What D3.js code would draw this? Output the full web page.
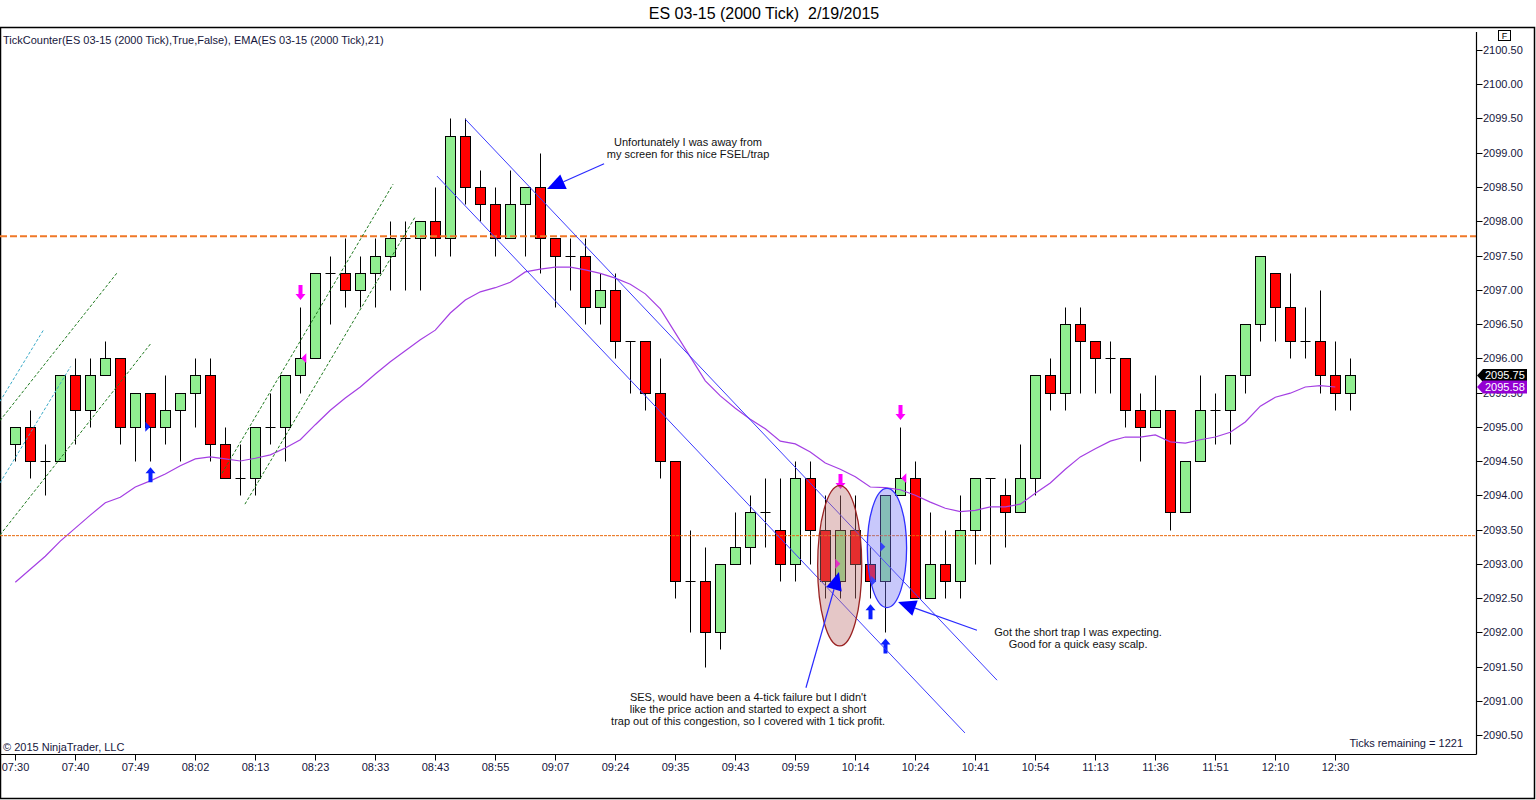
<!DOCTYPE html>
<html><head><meta charset="utf-8">
<script src="https://cdn.jsdelivr.net/npm/d3@7"></script>
<style>
body{margin:0;background:#fff;overflow:hidden}
svg{display:block}
text{font-family:Arial,"Liberation Sans",sans-serif;white-space:pre}
</style>
</head><body>
<svg id="chart" width="1536" height="800"></svg>
<script>
// ---------- DATA ----------
const title = "ES 03-15 (2000 Tick)  2/19/2015";
const legendText = "TickCounter(ES 03-15 (2000 Tick),True,False), EMA(ES 03-15 (2000 Tick),21)";
const opens = [2094.75,2095,2094.5,2094.5,2095.75,2095.25,2095.75,2096,2095,2095.5,
2095,2095.25,2095.5,2095.75,2094.75,2094.25,2094.25,2095,2095,2095.75,
2096,2097.25,2097.25,2097,2097.25,2097.5,2097.75,2097.75,2098,2097.75,
2099.25,2098.5,2098.25,2097.75,2098.25,2098.5,2097.75,2097.5,2097.5,2096.75,
2097,2096.25,2096.25,2095.5,2094.5,2092.75,2092.75,2092,2093,2093.25,
2093.75,2093.5,2093,2094.25,2093.5,2092.75,2093.5,2093,2092.75,2094,
2094.25,2092.5,2093,2092.75,2093.5,2094.25,2094,2093.75,2094.25,2095.75,
2095.5,2096.5,2096.25,2096,2096,2095.25,2095,2095.25,2093.75,2094.5,
2095.25,2095.25,2095.75,2096.5,2097.25,2096.75,2096.25,2096.25,2095.75,2095.5];
const highs = [2095,2095.25,2094.75,2095.75,2096,2096,2096.25,2096,2095.5,2095.5,
2095.75,2095.5,2096,2096,2095,2094.75,2095,2095.5,2095.75,2096.75,
2097.25,2097.5,2097.75,2097.5,2097.75,2098,2098,2098,2098.5,2099.5,
2099.5,2098.75,2098.5,2098.75,2098.5,2099,2097.75,2097.75,2097.75,2097.25,
2097.25,2096.25,2096.25,2096,2094.5,2093.5,2093.25,2093,2093.75,2094,
2094.25,2094.25,2094.5,2094.5,2094,2094,2094,2093.25,2094,2095,
2094.5,2093.75,2093.5,2094,2094.25,2094.25,2094.25,2094.75,2095.75,2096,
2096.75,2096.75,2096.25,2096.25,2096,2095.5,2095.75,2095.25,2094.5,2095.75,
2095.5,2095.75,2096.5,2097.5,2097.25,2097.25,2096.75,2097,2096.25,2096];
const lows = [2094.5,2094.25,2094,2094.5,2094.75,2095,2095.75,2094.75,2094.5,2094.5,
2094.75,2094.5,2095,2094.5,2094.25,2094,2094,2094.75,2094.5,2095.5,
2096,2096.5,2096.75,2096.75,2096.75,2097,2097,2097,2097.5,2097.5,
2098.25,2098,2097.5,2097.75,2097.5,2097.25,2096.75,2097,2096.5,2096.5,
2096,2095.5,2095.25,2094.25,2092.5,2092,2091.5,2091.75,2093,2093,
2093.25,2092.75,2092.75,2093,2092.5,2092.5,2092.5,2092.5,2092,2094,
2092.5,2092.5,2092.5,2092.5,2093,2093,2093.25,2093.75,2094,2095.25,
2095.25,2095.5,2095.5,2095.5,2095,2094.5,2095,2093.5,2093.75,2094.5,
2094.75,2094.75,2095.5,2096.25,2096.25,2096,2096,2095.5,2095.25,2095.25];
const closes = [2095,2094.5,2094.5,2095.75,2095.25,2095.75,2096,2095,2095.5,2095,
2095.25,2095.5,2095.75,2094.75,2094.25,2094.25,2095,2095,2095.75,2096,
2097.25,2097.25,2097,2097.25,2097.5,2097.75,2097.75,2098,2097.75,2099.25,
2098.5,2098.25,2097.75,2098.25,2098.5,2097.75,2097.5,2097.5,2096.75,2097,
2096.25,2096.25,2095.5,2094.5,2092.75,2092.75,2092,2093,2093.25,2093.75,
2093.75,2093,2094.25,2093.5,2092.75,2093.5,2093,2092.75,2094,2094.25,
2092.5,2093,2092.75,2093.5,2094.25,2094.25,2093.75,2094.25,2095.75,2095.5,
2096.5,2096.25,2096,2096,2095.25,2095,2095.25,2093.75,2094.5,2095.25,
2095.25,2095.75,2096.5,2097.5,2096.75,2096.25,2096.25,2095.75,2095.5,2095.75];
const emaValues = [2092.73,2092.92,2093.11,2093.33,2093.52,2093.71,2093.89,2093.97,2094.12,2094.21,
2094.31,2094.43,2094.53,2094.56,2094.53,2094.50,2094.54,2094.59,2094.69,2094.81,
2095.03,2095.24,2095.42,2095.58,2095.77,2095.95,2096.11,2096.27,2096.41,2096.66,
2096.85,2096.97,2097.03,2097.11,2097.26,2097.30,2097.33,2097.33,2097.29,2097.24,
2097.17,2097.08,2096.94,2096.72,2096.37,2096.02,2095.67,2095.45,2095.27,2095.11,
2094.97,2094.79,2094.75,2094.63,2094.47,2094.38,2094.27,2094.12,2094.11,2094.08,
2094.00,2093.90,2093.81,2093.76,2093.78,2093.83,2093.83,2093.87,2094.03,2094.18,
2094.38,2094.56,2094.68,2094.79,2094.85,2094.85,2094.88,2094.78,2094.76,2094.81,
2094.85,2094.92,2095.07,2095.30,2095.43,2095.49,2095.58,2095.60,2095.58];
const timeLabels = ["07:30","07:40","07:49","08:02","08:13","08:23","08:33","08:43","08:55","09:07","09:24","09:35","09:43","09:59","10:14","10:24","10:41","10:54","11:13","11:36","11:51","12:10","12:30"];
const timeLabelIndex = [0,4,8,12,16,20,24,28,32,36,40,44,48,52,56,60,64,68,72,76,80,84,88];
const priceTicks = [2090.5,2091,2091.5,2092,2092.5,2093,2093.5,2094,2094.5,2095,2095.5,2096,2096.5,2097,2097.5,2098,2098.5,2099,2099.5,2100,2100.5];
const lastPrice = 2095.75;
const lastEma = 2095.58;
const ticksRemaining = 1221;
// signal markers [bar index, price]
const upArrows = [[9,2094.41],[57,2092.41],[58,2091.91]];
const downArrows = [[19,2096.85],[55,2094.09],[59,2095.10]];
const rightTriangles = [[9,2095.0,"blue"],[55,2093.0,"magenta"],[58,2093.25,"blue"],[57,2092.75,"blue"]];
const leftTriangles = [[19,2096.0],[59,2094.25]];
// drawing objects [index1, price1, index2, price2]
const levelDashed = 2097.78;
const levelThin = 2093.41;
const channelLines = [[30,2099.49,65.45,2091.30],[28.11,2098.66,63.31,2090.53]];
const greenLines = [[-1.02,2093.42,9.05,2096.22],[-1.02,2095.09,6.76,2097.24],[13.78,2094.32,25.18,2098.54],[15.31,2093.87,26.65,2098.06]];
const tealLines = [[-1.02,2095.37,1.87,2096.41],[-1.02,2094.18,3.69,2095.88]];
const arrowLines = [[39.25,2098.84,35.45,2098.47],[64.11,2092.03,58.85,2092.44],[52.71,2091.19,54.91,2092.88]];
// ellipses [centre index, centre price, half width (bars), half height (points)]
const redEllipse = [54.96,2092.97,1.47,1.17];
const blueEllipse = [58.11,2093.23,1.31,0.87];
const notes = [
  {i:44.85, p:2099.10, lines:["Unfortunately I was away from","my screen for this nice FSEL/trap"]},
  {i:70.85, p:2091.945, lines:["Got the short trap I was expecting.","Good for a quick easy scalp."]},
  {i:48.85, p:2090.996, lines:["SES, would have been a 4-tick failure but I didn't","like the price action and started to expect a short","trap out of this congestion, so I covered with 1 tick profit."]}
];

// ---------- LAYOUT ----------
const W = 1536, H = 800;
const plotL = 0, plotR = 1476, plotT = 27, plotB = 754;
const svg = d3.select("#chart");
const x = d3.scaleLinear().domain([0, 89]).range([15.3, 1350.3]);
const y = d3.scaleLinear().domain([2090.5, 2100.5]).range([735, 50]);
const txtColor = "#16163c";
const px = v => Math.round(v) + 0.5;

svg.append("rect").attr("width", W).attr("height", H).attr("fill", "#fff");
svg.append("defs").append("clipPath").attr("id", "plotclip")
  .append("rect").attr("x", plotL).attr("y", plotT).attr("width", plotR - plotL).attr("height", plotB - plotT);

// title
svg.append("text").attr("x", 764).attr("y", 19).attr("text-anchor", "middle")
  .attr("font-size", 16).attr("fill", "#000").attr("xml:space", "preserve").text(title);

// frame
svg.append("rect").attr("x", 0.5).attr("y", 27.5).attr("width", 1534).attr("height", 771)
  .attr("fill", "none").attr("stroke", "#000").attr("stroke-width", 1.5);

const plot = svg.append("g").attr("clip-path", "url(#plotclip)");

// candles
const bars = d3.range(opens.length).map(i => ({i, o: opens[i], h: highs[i], l: lows[i], c: closes[i]}));
const cg = plot.append("g");
bars.forEach(b => {
  const cx = px(x(b.i));
  cg.append("line").attr("x1", cx).attr("x2", cx).attr("y1", px(y(b.h))).attr("y2", px(y(b.l)))
    .attr("stroke", "#000").attr("stroke-width", 1);
  if (b.o === b.c) {
    cg.append("line").attr("x1", cx - 5).attr("x2", cx + 5).attr("y1", px(y(b.o))).attr("y2", px(y(b.o)))
      .attr("stroke", "#000").attr("stroke-width", 1);
  } else {
    const top = px(y(Math.max(b.o, b.c))), bot = px(y(Math.min(b.o, b.c)));
    cg.append("rect").attr("x", cx - 5).attr("y", top).attr("width", 10).attr("height", bot - top)
      .attr("fill", b.c > b.o ? "#90ee90" : "#ff0000").attr("stroke", "#000").attr("stroke-width", 1);
  }
});

// EMA
plot.append("path").datum(emaValues)
  .attr("d", d3.line().x((d, i) => x(i)).y(d => y(d)))
  .attr("fill", "none").attr("stroke", "#a43fe3").attr("stroke-width", 1.2);

// markers
const mg = plot.append("g");
upArrows.forEach(([i, p]) => {
  const cx = x(i) + 0.2, ty = y(p);
  mg.append("path").attr("d", `M${cx},${ty} L${cx+5},${ty+6} L${cx+2},${ty+6} L${cx+2},${ty+15} L${cx-2},${ty+15} L${cx-2},${ty+6} L${cx-5},${ty+6} Z`)
    .attr("fill", "#0a1eff");
});
downArrows.forEach(([i, p]) => {
  const cx = x(i) + 0.2, ty = y(p);
  mg.append("path").attr("d", `M${cx},${ty} L${cx+5},${ty-6} L${cx+2},${ty-6} L${cx+2},${ty-15} L${cx-2},${ty-15} L${cx-2},${ty-6} L${cx-5},${ty-6} Z`)
    .attr("fill", "#ff00ff");
});
rightTriangles.forEach(([i, p, col]) => {
  const cx = x(i), cy = y(p);
  const x0 = col === "blue" && i === 57 ? cx + 1 : cx - 5;
  mg.append("path").attr("d", `M${x0},${cy-5} L${x0+5},${cy} L${x0},${cy+5} Z`)
    .attr("fill", col === "blue" ? "#0a1eff" : "#ff00ff");
});
leftTriangles.forEach(([i, p]) => {
  const cx = x(i), cy = y(p);
  mg.append("path").attr("d", `M${cx+6},${cy-5} L${cx+1},${cy} L${cx+6},${cy+5} Z`).attr("fill", "#ff00ff");
});

// horizontal levels
plot.append("line").attr("x1", plotL).attr("x2", plotR).attr("y1", y(levelDashed)).attr("y2", y(levelDashed))
  .attr("stroke", "#f07828").attr("stroke-width", 2).attr("stroke-dasharray", "7,3");
plot.append("line").attr("x1", plotL).attr("x2", plotR).attr("y1", y(levelThin)).attr("y2", y(levelThin))
  .attr("stroke", "#e8680a").attr("stroke-width", 1).attr("stroke-dasharray", "3,1");

// trend lines
const dg = plot.append("g");
function seg(d, color, dash) {
  dg.append("line").attr("x1", x(d[0])).attr("y1", y(d[1])).attr("x2", x(d[2])).attr("y2", y(d[3]))
    .attr("stroke", color).attr("stroke-width", 1).attr("stroke-dasharray", dash || null);
}
greenLines.forEach(d => seg(d, "#1f7a1f", "3,2"));
tealLines.forEach(d => seg(d, "#3aaac8", "3,2"));
channelLines.forEach(d => seg(d, "#3c3cff", null));

// ellipses
function ell(e, fill, stroke) {
  const cx = x(e[0]), cy = y(e[1]);
  const rx = x(e[0] + e[2]) - cx, ry = cy - y(e[1] + e[3]);
  dg.append("ellipse").attr("cx", cx).attr("cy", cy).attr("rx", rx).attr("ry", ry)
    .attr("fill", fill).attr("stroke", stroke).attr("stroke-width", 1.3);
}
ell(redEllipse, "rgba(190,115,115,0.4)", "#9a2222");
ell(blueEllipse, "rgba(118,118,245,0.4)", "#3030ff");

// arrow lines
arrowLines.forEach(d => {
  const x1 = x(d[0]), y1 = y(d[1]), x2 = x(d[2]), y2 = y(d[3]);
  const len = Math.hypot(x2 - x1, y2 - y1), ux = (x2 - x1) / len, uy = (y2 - y1) / len;
  const hl = 18, hw = 8;
  const bx = x2 - ux * hl, by = y2 - uy * hl;
  dg.append("line").attr("x1", x1).attr("y1", y1).attr("x2", bx).attr("y2", by)
    .attr("stroke", "#2a2aff").attr("stroke-width", 1.2);
  dg.append("path").attr("d", `M${x2},${y2} L${bx - uy*hw},${by + ux*hw} L${bx + uy*hw},${by - ux*hw} Z`)
    .attr("fill", "#0000ff");
});

// notes
notes.forEach(n => {
  const t = dg.append("text").attr("text-anchor", "middle").attr("font-size", 11).attr("fill", "#111");
  n.lines.forEach((ln, k) => t.append("tspan").attr("x", x(n.i)).attr("y", y(n.p) + k * 11.8).text(ln));
});

// legend & labels inside plot
svg.append("text").attr("x", 3).attr("y", 44).attr("font-size", 11).attr("fill", txtColor).text(legendText);
svg.append("text").attr("x", 3).attr("y", 751).attr("font-size", 11).attr("fill", txtColor).text("© 2015 NinjaTrader, LLC");
svg.append("text").attr("x", 1463).attr("y", 747).attr("text-anchor", "end").attr("font-size", 11).attr("fill", txtColor)
  .text("Ticks remaining = " + ticksRemaining);

// right axis
const ya = svg.append("g");
ya.append("line").attr("x1", px(plotR)).attr("x2", px(plotR)).attr("y1", 32).attr("y2", plotB + 0.5)
  .attr("stroke", "#000").attr("stroke-width", 1.2);
priceTicks.forEach(p => {
  const ty = px(y(p));
  ya.append("line").attr("x1", px(plotR)).attr("x2", px(plotR) + 6).attr("y1", ty).attr("y2", ty).attr("stroke", "#000");
  ya.append("text").attr("x", 1483).attr("y", ty).attr("dy", "0.36em").attr("font-size", 11).attr("fill", txtColor)
    .text(d3.format(".2f")(p));
});
// F box
ya.append("rect").attr("x", 1498.5).attr("y", 30.5).attr("width", 12).attr("height", 10).attr("fill", "#fff").attr("stroke", "#000");
ya.append("text").attr("x", 1504.5).attr("y", 39).attr("text-anchor", "middle").attr("font-size", 9).attr("fill", "#000").text("F");

// current value tags
function tag(v, fill) {
  const ty = y(v);
  ya.append("path").attr("d", `M${plotR+1},${ty} L${plotR+7},${ty-6.5} L${1527},${ty-6.5} L${1527},${ty+6.5} L${plotR+7},${ty+6.5} Z`)
    .attr("fill", fill);
  ya.append("text").attr("x", 1485).attr("y", ty).attr("dy", "0.36em").attr("font-size", 11).attr("fill", "#fff")
    .text(d3.format(".2f")(v));
}
tag(lastPrice, "#000");
tag(lastEma, "#9400d3");

// time axis
const xa = svg.append("g");
xa.append("line").attr("x1", 0).attr("x2", px(plotR)).attr("y1", px(plotB)).attr("y2", px(plotB))
  .attr("stroke", "#000").attr("stroke-width", 1.2);
timeLabelIndex.forEach((bi, k) => {
  const tx = px(x(bi));
  xa.append("line").attr("x1", tx).attr("x2", tx).attr("y1", px(plotB)).attr("y2", px(plotB) + 6).attr("stroke", "#000");
  xa.append("text").attr("x", tx).attr("y", 771).attr("text-anchor", "middle").attr("font-size", 11).attr("fill", txtColor)
    .text(timeLabels[k]);
});
</script>
</body></html>
